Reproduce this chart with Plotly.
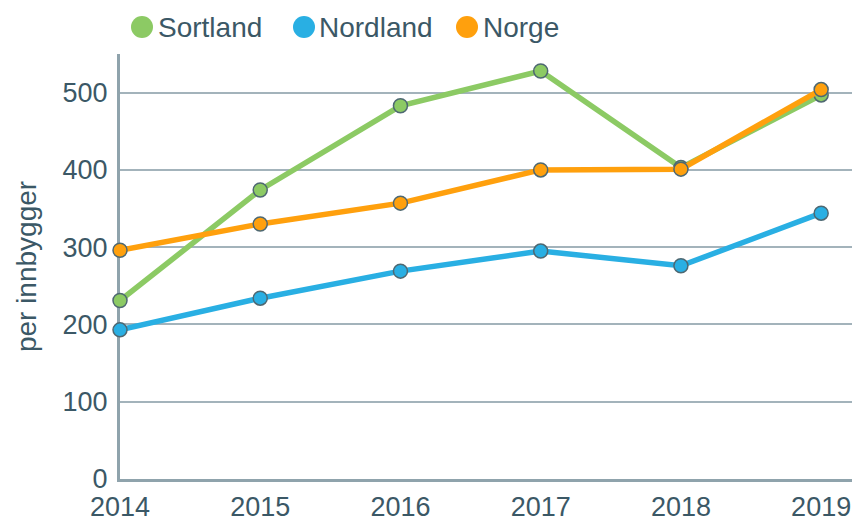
import plotly.graph_objects as go

years = [2014, 2015, 2016, 2017, 2018, 2019]
sortland = [231, 374, 483, 528, 403, 497]
nordland = [193, 234, 269, 295, 276, 344]
norge = [296, 330, 357, 400, 401, 504]

series_names = ["Sortland", "Nordland", "Norge"]
series_values = [sortland, nordland, norge]
series_colors = ["#8cca64", "#29afe3", "#ffa00d"]

y_ticks = [0, 100, 200, 300, 400, 500]

W, H = 856, 522
ML, MR, MT, MB = 120, 4, 54, 43
text_color = "#3b5866"
font_family = "Liberation Sans, Arial, sans-serif"

fig = go.Figure()
for name, vals, col in zip(series_names, series_values, series_colors):
    fig.add_trace(go.Scatter(
        x=years, y=vals, name=name, mode="lines+markers",
        line=dict(color=col, width=5.5),
        marker=dict(size=14, color=col, line=dict(color="#4e6872", width=1.5)),
        cliponaxis=False, showlegend=False,
    ))

# custom legend: circles + labels above the plot (pixel positions)
pw = W - ML - MR
ph = H - MT - MB
def px_x(p):
    return (p - ML) / pw
def px_y(p):
    return (H - MB - p) / ph

legend_text_x = [156, 317, 481]
legend_circle_x = [142, 304, 467]
legend_y = 27
for name, col, tx, cx in zip(series_names, series_colors, legend_text_x, legend_circle_x):
    fig.add_annotation(
        x=px_x(tx), y=px_y(legend_y), xref="paper", yref="paper",
        text=name, showarrow=False, xanchor="left", yanchor="middle",
        font=dict(size=28, color=text_color, family=font_family),
    )
    fig.add_shape(
        type="circle", xref="paper", yref="paper",
        xsizemode="pixel", ysizemode="pixel",
        xanchor=px_x(cx), yanchor=px_y(legend_y),
        x0=-11, x1=11, y0=-11, y1=11,
        fillcolor=col, line=dict(width=0),
    )

fig.update_layout(
    width=W, height=H,
    margin=dict(l=ML, r=MR, t=MT, b=MB, autoexpand=False),
    paper_bgcolor="white", plot_bgcolor="white",
    font=dict(family=font_family, color=text_color, size=26),
    hovermode=False,
)
fig.update_xaxes(
    range=[2014, 2019.22], tickvals=years, ticktext=[str(y) for y in years],
    showgrid=False, zeroline=False, showline=True, linecolor="#8fa3ac", linewidth=3,
    ticks="", ticklabelstandoff=2, tickfont=dict(size=27, color=text_color),
    layer="below traces", automargin=False,
)
fig.update_yaxes(
    range=[0, 550], tickvals=y_ticks,
    showgrid=True, gridcolor="#a3b3bb", gridwidth=1.5,
    zeroline=False, showline=True, linecolor="#8fa3ac", linewidth=3,
    ticks="", ticklabelstandoff=4, tickfont=dict(size=27, color=text_color),
    title=dict(text="per innbygger", standoff=18, font=dict(size=28, color=text_color)),
    layer="below traces", automargin=False,
)

fig.write_html(
    "out.html",
    config={"displayModeBar": False},
    post_script="document.body.style.margin='0';document.body.style.overflow='hidden';",
)
